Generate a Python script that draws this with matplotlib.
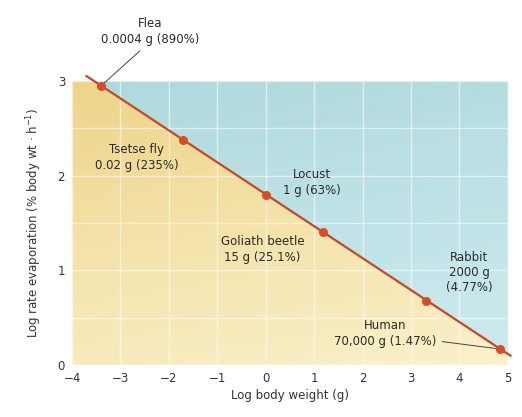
import numpy as np
import matplotlib.pyplot as plt
from matplotlib.patches import Polygon

# log10 of body weight (g) and evaporation rate (% body wt per hour)
animals = ["Flea", "Tsetse fly", "Locust", "Goliath beetle", "Rabbit", "Human"]
weights = ["0.0004 g", "0.02 g", "1 g", "15 g", "2000 g", "70,000 g"]
rates = ["890%", "235%", "63%", "25.1%", "4.77%", "1.47%"]
log_weight = [-3.398, -1.699, 0.0, 1.176, 3.301, 4.845]
log_rate = [2.949, 2.371, 1.799, 1.400, 0.679, 0.167]

x_ticks = [-4, -3, -2, -1, 0, 1, 2, 3, 4, 5]
y_ticks = [0, 1, 2, 3]

fig = plt.figure(figsize=(5.22, 4.17), dpi=100)
ax = fig.add_axes([0.138, 0.125, 0.835, 0.681])
ax.set_xlim(-4, 5)
ax.set_ylim(0, 3)

# fitted line through the end points
slope = (log_rate[-1] - log_rate[0]) / (log_weight[-1] - log_weight[0])
def fit(x):
    return log_rate[0] + slope * (x - log_weight[0])

x0, x1 = -4, 5
below = Polygon([(x0, 0), (x0, fit(x0)), (x1, fit(x1)), (x1, 0)], closed=True,
                transform=ax.transData, facecolor="none", edgecolor="none")
above = Polygon([(x0, 3), (x0, fit(x0)), (x1, fit(x1)), (x1, 3)], closed=True,
                transform=ax.transData, facecolor="none", edgecolor="none")
ax.add_patch(below)
ax.add_patch(above)

# gradient fills
gx = np.linspace(0, 1, 200)[None, :, None]
gy = np.linspace(0, 1, 200)[:, None, None]

yel_top = np.array([238, 212, 138]) / 255
yel_bot = np.array([250, 241, 202]) / 255
wy = np.clip(0.8 * (1 - gy) + 0.2 * gx, 0, 1)
yel = yel_top + (yel_bot - yel_top) * wy
im1 = ax.imshow(yel, extent=[x0, x1, 0, 3], origin="lower", aspect="auto", zorder=0)
im1.set_clip_path(below)

teal_top = np.array([174, 217, 220]) / 255
teal_bot = np.array([206, 235, 239]) / 255
wt = np.clip(0.8 * (1 - gy) + 0.2 * gx, 0, 1)
teal = teal_top + (teal_bot - teal_top) * wt
im2 = ax.imshow(teal, extent=[x0, x1, 0, 3], origin="lower", aspect="auto", zorder=0)
im2.set_clip_path(above)

for xv in x_ticks:
    ax.axvline(xv, color="white", lw=1.0, alpha=0.55, zorder=1)
for yv in np.arange(0, 3.01, 0.5):
    ax.axhline(yv, color="white", lw=1.0, alpha=0.55, zorder=1)

lx = np.array([-3.72, 5.07])
ax.plot(lx, fit(lx), color="#c2492b", lw=1.6, zorder=3, clip_on=False,
        solid_capstyle="butt")
ax.scatter(log_weight, log_rate, s=30, color="#d24f2a", zorder=4, clip_on=False)

for s in ax.spines.values():
    s.set_visible(False)
ax.set_xticks(x_ticks)
ax.set_yticks(y_ticks)
ax.tick_params(length=0, labelsize=8.5, colors="#333333", pad=5)
ax.set_xlabel("Log body weight (g)", fontsize=8.5, color="#333333", labelpad=3)
ax.set_ylabel("Log rate evaporation (% body wt \u00b7 h$^{-1}$)", fontsize=8.5,
              color="#333333", labelpad=10)

fs = 8.5
tc = "#2a2a2a"
ax.annotate(f"{animals[0]}\n{weights[0]} ({rates[0]})",
            xy=(log_weight[0], log_rate[0]), xytext=(-2.39, 3.52),
            ha="center", va="center", fontsize=fs, color=tc, linespacing=1.3,
            annotation_clip=False,
            arrowprops=dict(arrowstyle="-", color="#444444", lw=0.7,
                            shrinkA=2, shrinkB=2, relpos=(0.45, 0.0)))
ax.text(-2.66, 2.19, f"{animals[1]}\n{weights[1]} ({rates[1]})", ha="center",
        va="center", fontsize=fs, color=tc, linespacing=1.3)
ax.text(0.96, 1.93, f"{animals[2]}\n{weights[2]} ({rates[2]})", ha="center",
        va="center", fontsize=fs, color=tc, linespacing=1.3)
ax.text(-0.07, 1.22, f"{animals[3]}\n{weights[3]} ({rates[3]})", ha="center",
        va="center", fontsize=fs, color=tc, linespacing=1.3)
ax.text(4.2, 0.98, f"{animals[4]}\n{weights[4]}\n({rates[4]})", ha="center",
        va="center", fontsize=fs, color=tc, linespacing=1.2)
ax.annotate(f"{animals[5]}\n{weights[5]} ({rates[5]})",
            xy=(log_weight[5], log_rate[5]), xytext=(2.47, 0.33),
            ha="center", va="center", fontsize=fs, color=tc, linespacing=1.3,
            arrowprops=dict(arrowstyle="-", color="#444444", lw=0.7,
                            shrinkA=2, shrinkB=3,
                            relpos=(1.0, 0.25)))

fig.savefig("out.png", dpi=100)
